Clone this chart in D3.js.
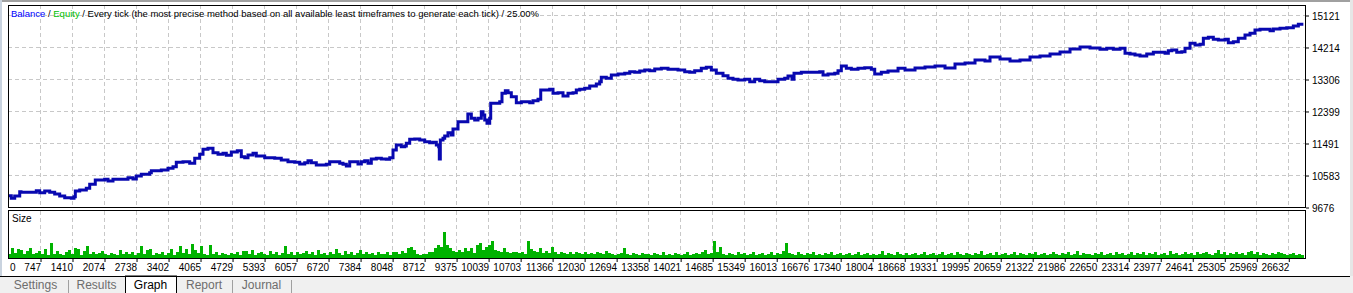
<!DOCTYPE html>
<html>
<head>
<meta charset="utf-8">
<script src="https://cdnjs.cloudflare.com/ajax/libs/d3/7.8.5/d3.min.js"></script>
<style>
  body { margin: 0; background: #fff; }
  svg { display: block; font-family: "Liberation Sans", Arial, sans-serif; }
</style>
</head>
<body>
<div id="graph"></div>
<script>
// trade number / balance pairs
var tradeNo = [83,151,222,326,353,637,670,740,844,948,1051,1155,1259,1396,1452,1479,1570,1707,1777,1893,
  2088,2157,2260,2433,2571,2675,2744,2847,3021,3055,3262,3401,3505,3573,3712,3851,3955,4058,4127,4230,
  4334,4438,4542,4610,4714,4838,4921,4992,5060,5164,5232,5406,5614,5750,5889,6028,6132,6236,6304,6373,
  6476,6580,6684,6754,6858,6962,7030,7099,7169,7273,7341,7410,7480,7549,7617,7721,7825,7928,7999,8067,
  8135,8239,8310,8343,8413,8517,8621,8724,8828,8896,8965,9014,9027,9048,9104,9139,9207,9276,9311,9415,
  9584,9619,9691,9761,9830,9898,9933,9969,10016,10072,10093,10209,10280,10327,10396,10452,10520,10624,10728,10831,
  10902,10970,11074,11130,11246,11316,11385,11489,11592,11696,11800,11868,11939,12042,12146,12283,12353,12386,12490,12594,
  12733,12872,12976,13079,13183,13287,13390,13494,13631,13770,13977,14116,14220,14323,14460,14564,14668,14771,14910,15014,
  15117,15221,15360,15464,15567,15671,15775,15912,16051,16190,16258,16341,16383,16534,16673,16812,16916,16984,17088,17227,
  17295,17364,17467,17571,17710,17849,17986,18056,18193,18332,18540,18685,18892,19099,19307,19514,19721,19929,20136,20343,
  20447,20655,20862,21069,21277,21484,21692,21899,22106,22314,22521,22728,22867,23004,23143,23247,23351,23454,23558,23697,
  23834,23973,24077,24145,24216,24319,24423,24491,24595,24699,24803,24871,24975,25078,25182,25321,25389,25493,25596,25735,
  25839,25942,26046,26185,26254,26322,26461,26600,26737,26841,26945];

var balance = [9996,9923,9988,10110,10093,10093,10138,10082,10130,10093,10045,9988,9940,9923,9968,10130,10158,10206,10320,10442,
  10462,10413,10462,10462,10507,10470,10555,10603,10649,10705,10725,10774,10819,10944,10961,10915,11057,11171,11312,11341,
  11216,11171,11199,11142,11236,11273,11102,11074,11151,11199,11122,11074,11057,11009,10961,10944,10895,10932,10989,10932,
  10867,10867,10887,10961,10961,10915,10887,10839,10961,10961,10895,10961,10989,10915,11037,11057,11037,11029,11074,11292,
  11434,11386,11406,11482,11596,11604,11576,11528,11499,11511,11434,11386,11037,11576,11624,11690,11783,11718,11888,12095,
  12095,12313,12191,12143,12191,12379,12285,12143,12050,12191,12617,12617,12662,12900,12974,12917,12804,12634,12662,12662,
  12634,12691,12730,12994,12994,13014,12900,12917,12824,12900,12917,12994,13014,13042,13107,13164,13229,13354,13326,13419,
  13448,13468,13513,13496,13533,13561,13541,13590,13609,13581,13561,13513,13496,13541,13609,13638,13561,13468,13400,13326,
  13297,13278,13297,13229,13297,13258,13229,13229,13297,13326,13391,13297,13468,13496,13496,13496,13513,13419,13448,13468,
  13541,13675,13609,13581,13609,13626,13581,13448,13496,13533,13609,13561,13618,13646,13675,13618,13731,13760,13845,13816,
  13930,13873,13816,13845,13930,13958,14015,14072,14157,14213,14185,14148,14177,14148,14177,14035,14015,13987,13958,14015,
  14063,14063,14035,14109,14128,14063,14080,14177,14318,14270,14290,14460,14489,14432,14412,14432,14335,14364,14460,14554,
  14602,14696,14715,14715,14676,14724,14744,14761,14809,14857,14857];

// lot size, one sample every sizeTradeStep trades
var sizeFirstTrade = 104;
var sizeTradeStep = 62.2;
var sizeLots = [
  0.04,0.11,0.05,0.10,0.09,0.04,0.08,0.11,0.04,0.05,
  0.08,0.04,0.10,0.03,0.16,0.04,0.08,0.04,0.03,0.07,
  0.09,0.04,0.11,0.10,0.03,0.08,0.13,0.04,0.07,0.04,
  0.05,0.08,0.04,0.03,0.05,0.04,0.03,0.09,0.04,0.06,
  0.04,0.06,0.03,0.05,0.13,0.04,0.09,0.10,0.03,0.05,
  0.04,0.06,0.03,0.05,0.10,0.03,0.07,0.13,0.05,0.10,
  0.04,0.15,0.09,0.05,0.13,0.04,0.03,0.14,0.04,0.06,
  0.03,0.05,0.04,0.03,0.05,0.04,0.06,0.03,0.08,0.08,
  0.04,0.09,0.03,0.05,0.06,0.04,0.03,0.08,0.04,0.06,
  0.03,0.05,0.13,0.04,0.07,0.03,0.06,0.04,0.05,0.08,
  0.04,0.06,0.03,0.09,0.04,0.05,0.03,0.07,0.04,0.10,
  0.05,0.03,0.08,0.04,0.06,0.03,0.05,0.09,0.04,0.06,
  0.04,0.05,0.03,0.07,0.04,0.04,0.07,0.03,0.06,0.07,
  0.04,0.08,0.05,0.11,0.12,0.09,0.04,0.03,0.04,0.04,
  0.06,0.07,0.11,0.14,0.12,0.28,0.14,0.11,0.08,0.07,
  0.09,0.06,0.11,0.08,0.11,0.05,0.14,0.16,0.09,0.12,
  0.14,0.19,0.09,0.08,0.07,0.11,0.06,0.05,0.07,0.06,
  0.05,0.07,0.04,0.18,0.10,0.08,0.06,0.11,0.05,0.08,
  0.05,0.12,0.06,0.04,0.07,0.05,0.04,0.06,0.04,0.07,
  0.05,0.04,0.06,0.04,0.05,0.04,0.07,0.05,0.04,0.08,
  0.05,0.04,0.03,0.04,0.05,0.11,0.04,0.03,0.05,0.04,
  0.03,0.05,0.04,0.04,0.03,0.05,0.04,0.03,0.06,0.03,
  0.04,0.03,0.05,0.04,0.03,0.04,0.06,0.03,0.04,0.05,
  0.04,0.06,0.09,0.04,0.05,0.19,0.07,0.12,0.04,0.03,
  0.05,0.04,0.03,0.06,0.04,0.05,0.03,0.04,0.07,0.03,
  0.04,0.05,0.03,0.04,0.06,0.03,0.05,0.04,0.08,0.16,
  0.05,0.04,0.03,0.07,0.04,0.03,0.05,0.04,0.06,0.03,
  0.04,0.03,0.05,0.04,0.06,0.03,0.04,0.05,0.03,0.04,
  0.05,0.03,0.04,0.06,0.03,0.04,0.05,0.03,0.04,0.03,
  0.04,0.08,0.03,0.05,0.04,0.03,0.06,0.04,0.03,0.05,
  0.03,0.04,0.05,0.03,0.04,0.07,0.03,0.04,0.05,0.03,
  0.04,0.06,0.03,0.04,0.05,0.03,0.07,0.04,0.03,0.05,
  0.04,0.03,0.05,0.04,0.08,0.03,0.04,0.05,0.03,0.06,
  0.03,0.04,0.05,0.03,0.04,0.06,0.03,0.05,0.04,0.03,
  0.05,0.04,0.07,0.03,0.04,0.05,0.03,0.04,0.06,0.04,
  0.03,0.05,0.04,0.06,0.03,0.04,0.08,0.03,0.05,0.04,
  0.04,0.03,0.05,0.04,0.07,0.03,0.04,0.05,0.03,0.06,
  0.04,0.05,0.03,0.04,0.06,0.03,0.05,0.04,0.07,0.03,
  0.05,0.04,0.06,0.03,0.04,0.05,0.03,0.08,0.04,0.05,
  0.03,0.04,0.06,0.04,0.05,0.03,0.07,0.04,0.05,0.06,
  0.04,0.03,0.05,0.09,0.04,0.06,0.03,0.05,0.04,0.07,
  0.04,0.05,0.03,0.06,0.08,0.04,0.06,0.03,0.05,0.04,
  0.03,0.05,0.04,0.06,0.05,0.04,0.03,0.04,0.05,0.03,
  0.04,0.03];

var xTickLabels = ["0","747","1410","2074","2738","3402","4065","4729","5393","6057","6720","7384","8048",
  "8712","9375","10039","10703","11366","12030","12694","13358","14021","14685","15349","16013","16676",
  "17340","18004","18668","19331","19995","20659","21322","21986","22650","23314","23977","24641","25305",
  "25969","26632"];
var yTickLabels = ["9676","10583","11491","12399","13306","14214","15121"];
var tabNames = ["Settings","Results","Graph","Report","Journal"];
var activeTab = "Graph";

GraphVis = function(_parentElement) {
  this.parentElement = _parentElement;
  this.width = 1353;
  this.height = 293;
  this.initVis();
};

GraphVis.prototype.initVis = function() {
  var vis = this;

  vis.left = 8;
  vis.right = 1305;
  vis.mainTop = 5;
  vis.mainBottom = 207;
  vis.subTop = 211;
  vis.subBottom = 258;

  vis.x = d3.scaleLinear().domain([0, 26979]).range([4, 1305]);
  vis.y = d3.scaleLinear().domain([9676, 15121]).range([207, 15]);
  vis.ySize = d3.scaleLinear().domain([0, 0.5]).range([258, 212]);

  vis.xTicks = xTickLabels.map(Number);
  vis.yTicks = yTickLabels.map(Number);

  vis.createVis();
};

GraphVis.prototype.createVis = function() {
  var vis = this;
  var px = function(v) { return Math.round(v) + 0.5; };

  vis.svg = d3.select(vis.parentElement).append("svg")
    .attr("width", vis.width)
    .attr("height", vis.height);

  vis.svg.append("rect").attr("width", vis.width).attr("height", vis.height).attr("fill", "#fff");
  vis.svg.append("rect").attr("width", vis.width).attr("height", 2).attr("fill", "#a0a0a0");
  vis.svg.append("rect").attr("width", 2).attr("height", vis.height).attr("fill", "#c9d3df");
  vis.svg.append("rect").attr("x", 1350).attr("width", 3).attr("height", vis.height).attr("fill", "#e6e6e6");

  // grid
  var grid = vis.svg.append("g")
    .attr("stroke", "#c8c8c8")
    .attr("stroke-dasharray", "4,3")
    .attr("shape-rendering", "crispEdges");

  var vTicks = vis.xTicks.slice(1);
  [[vis.mainTop, vis.mainBottom], [vis.subTop, vis.subBottom]].forEach(function(span) {
    grid.selectAll(null)
      .data(vTicks).enter()
      .append("line")
      .attr("x1", function(d) { return px(vis.x(d)); })
      .attr("x2", function(d) { return px(vis.x(d)); })
      .attr("y1", span[0])
      .attr("y2", span[1]);
  });

  grid.selectAll(".hgrid")
    .data(vis.yTicks.slice(1)).enter()
    .append("line")
    .attr("x1", vis.left)
    .attr("x2", vis.right)
    .attr("y1", function(d) { return px(vis.y(d)); })
    .attr("y2", function(d) { return px(vis.y(d)); });

  // size histogram
  vis.svg.append("g")
    .attr("fill", "#00b300")
    .attr("shape-rendering", "crispEdges")
    .selectAll("rect")
    .data(sizeLots).enter()
    .append("rect")
    .attr("x", function(d, i) { return Math.round(vis.x(sizeFirstTrade + i * sizeTradeStep)) - 1; })
    .attr("width", 3)
    .attr("y", function(d) { return vis.ySize(d); })
    .attr("height", function(d) { return vis.ySize(0) - vis.ySize(d); });

  // balance line
  vis.svg.append("clipPath").attr("id", "mainClip")
    .append("rect")
    .attr("x", vis.left).attr("y", vis.mainTop)
    .attr("width", vis.right - vis.left).attr("height", vis.mainBottom - vis.mainTop);

  var line = d3.line()
    .curve(d3.curveStepAfter)
    .x(function(d) { return vis.x(d[0]); })
    .y(function(d) { return vis.y(d[1]); });

  vis.svg.append("path")
    .datum(d3.zip(tradeNo, balance))
    .attr("clip-path", "url(#mainClip)")
    .attr("fill", "none")
    .attr("stroke", "#0808b0")
    .attr("stroke-width", 3)
    .attr("stroke-linejoin", "miter")
    .attr("d", line);

  // frames
  vis.svg.append("rect")
    .attr("x", vis.left + 0.5).attr("y", vis.mainTop + 0.5)
    .attr("width", vis.right - vis.left).attr("height", vis.mainBottom - vis.mainTop)
    .attr("fill", "none").attr("stroke", "#000");
  vis.svg.append("rect")
    .attr("x", vis.left + 0.5).attr("y", vis.subTop - 0.5)
    .attr("width", vis.right - vis.left).attr("height", vis.subBottom - vis.subTop + 1)
    .attr("fill", "none").attr("stroke", "#000");

  // y axis on the right
  vis.yAxis = d3.axisRight(vis.y)
    .tickValues(vis.yTicks)
    .tickFormat(function(d, i) { return yTickLabels[i]; })
    .tickSize(3)
    .tickPadding(3);

  var ya = vis.svg.append("g")
    .attr("class", "y axis")
    .attr("transform", "translate(" + (vis.right + 1) + ",0.5)")
    .call(vis.yAxis);
  ya.select(".domain").remove();
  ya.selectAll("text").attr("font-size", "10px").attr("font-family", "Liberation Sans, Arial, sans-serif")
    .attr("fill", "#000").attr("dy", "0.42em");

  // x axis under the size panel
  vis.xAxis = d3.axisBottom(vis.x)
    .tickValues(vis.xTicks)
    .tickFormat(function(d, i) { return xTickLabels[i]; })
    .tickSize(3)
    .tickPadding(2);

  var xa = vis.svg.append("g")
    .attr("class", "x axis")
    .attr("transform", "translate(0.5," + (vis.subBottom + 1) + ")")
    .call(vis.xAxis);
  xa.select(".domain").remove();
  xa.selectAll(".tick").filter(function(d, i) { return i === 0; }).select("line").remove();
  xa.selectAll("text")
    .attr("font-size", "10px")
    .attr("font-family", "Liberation Sans, Arial, sans-serif")
    .attr("fill", "#000")
    .attr("text-anchor", function(d, i) { return i === 0 ? "start" : "end"; })
    .attr("x", function(d, i) { return i === 0 ? 5 : 0; });

  // title and panel label
  var title = vis.svg.append("text")
    .attr("x", 11).attr("y", 17)
    .attr("font-size", "9.5px");
  title.append("tspan").attr("fill", "#0000ff").text("Balance");
  title.append("tspan").attr("fill", "#000").text(" / ");
  title.append("tspan").attr("fill", "#00c000").text("Equity");
  title.append("tspan").attr("fill", "#000")
    .text(" / Every tick (the most precise method based on all available least timeframes to generate each tick) / 25.00%");

  vis.svg.append("text")
    .attr("x", 12).attr("y", 222)
    .attr("font-size", "10px")
    .text("Size");

  // tab strip
  var tabTop = 276;
  var tabEdges = [3, 68, 125, 176, 232, 291];
  vis.svg.append("rect").attr("x", 0).attr("y", tabTop).attr("width", vis.width).attr("height", vis.height - tabTop)
    .attr("fill", "#f0f0f0");

  var tabs = vis.svg.append("g").attr("class", "tabs");
  tabNames.forEach(function(name, i) {
    var x0 = tabEdges[i], x1 = tabEdges[i + 1];
    var isActive = name === activeTab;
    if (isActive) {
      tabs.append("rect").attr("x", x0 + 0.5).attr("y", tabTop).attr("width", x1 - x0).attr("height", vis.height - tabTop + 2)
        .attr("fill", "#fff").attr("stroke", "#000");
    } else if (i > 0 && tabNames[i - 1] !== activeTab) {
      tabs.append("line").attr("x1", x0 + 0.5).attr("x2", x0 + 0.5).attr("y1", tabTop + 4).attr("y2", vis.height)
        .attr("stroke", "#a0a0a0");
    }
    tabs.append("text")
      .attr("x", (x0 + x1) / 2).attr("y", 289)
      .attr("text-anchor", "middle")
      .attr("font-size", "12px")
      .attr("fill", isActive ? "#000" : "#6d6d6d")
      .text(name);
  });
  tabs.append("line").attr("x1", tabEdges[5] + 0.5).attr("x2", tabEdges[5] + 0.5).attr("y1", tabTop + 4).attr("y2", vis.height)
    .attr("stroke", "#a0a0a0");

  vis.svg.append("line")
    .attr("x1", 0).attr("x2", 1350)
    .attr("y1", tabTop + 0.5).attr("y2", tabTop + 0.5)
    .attr("stroke", "#000");
};

new GraphVis("#graph");
</script>
</body>
</html>
